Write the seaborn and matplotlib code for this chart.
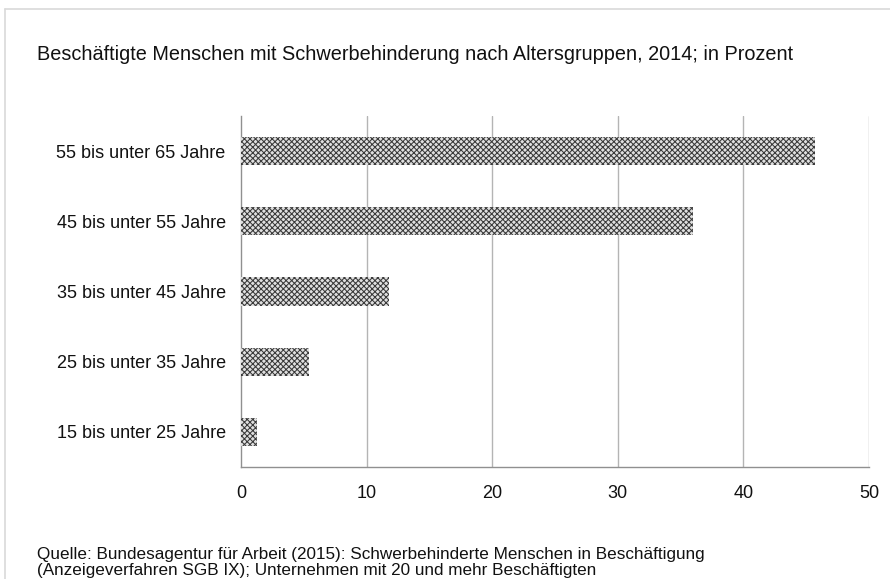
import matplotlib.pyplot as plt
import matplotlib.lines as mlines
import pandas as pd
import seaborn as sns

# age groups, top to bottom as in the chart
groups = ["55 bis unter 65 Jahre", "45 bis unter 55 Jahre", "35 bis unter 45 Jahre",
          "25 bis unter 35 Jahre", "15 bis unter 25 Jahre"]
shares = [45.7, 36.0, 11.8, 5.4, 1.3]
xticks = [0, 10, 20, 30, 40, 50]

title = "Beschäftigte Menschen mit Schwerbehinderung nach Altersgruppen, 2014; in Prozent"
source_1 = "Quelle: Bundesagentur für Arbeit (2015): Schwerbehinderte Menschen in Beschäftigung"
source_2 = "(Anzeigeverfahren SGB IX); Unternehmen mit 20 und mehr Beschäftigten"

df = pd.DataFrame({"Gruppe": groups, "Anteil": shares})

sns.set_style("white")
plt.rcParams['font.family'] = ['Liberation Sans', 'DejaVu Sans']
plt.rcParams['hatch.linewidth'] = 0.75

fig = plt.figure(figsize=(8.9, 5.79), dpi=100)
ax = fig.add_axes([241 / 890, 1 - 467 / 579, 628 / 890, 351 / 579])

sns.barplot(data=df, x="Anteil", y="Gruppe", orient="h", width=0.4,
            color="white", ax=ax, zorder=3)
for p in ax.patches:
    p.set_hatch("xxxxxx")
    p.set_edgecolor("#3a3a3a")
    p.set_linewidth(0)
    p.set_facecolor("#e0e0e0")

ax.set_xlim(0, 50)
ax.set_xticks(xticks)
ax.set_ylim(4.5, -0.5)
ax.set_xlabel("")
ax.set_ylabel("")

# vertical gridlines
for v in xticks[1:]:
    ax.axvline(v, color="#b4b4b4", lw=1, zorder=1)

# category boundary ticks on the y axis
ax.set_yticks([i - 0.5 for i in range(6)], minor=True)
ax.tick_params(axis="y", which="major", length=0, pad=11, labelsize=13, colors="#111111")
ax.tick_params(axis="y", which="minor", length=5, color="#909090", width=1, direction="out")
ax.tick_params(axis="x", length=6, color="#909090", width=1, direction="out",
               labelsize=13, labelcolor="#111111", pad=7)

for s in ["top", "right"]:
    ax.spines[s].set_visible(False)
for s in ["left", "bottom"]:
    ax.spines[s].set_color("#909090")
    ax.spines[s].set_linewidth(1)

fig.text(37 / 890, 1 - 55 / 579, title, fontsize=14.3, va="center", ha="left", color="#111111")
fig.text(37 / 890, 1 - 559 / 579, source_1, fontsize=12.3, va="baseline", ha="left", color="#111111")
fig.text(37 / 890, 1 - 575.5 / 579, source_2, fontsize=12.3, va="baseline", ha="left", color="#111111")

# thin frame lines along top and left edge
fig.add_artist(mlines.Line2D([5 / 890, 1], [1 - 9 / 579, 1 - 9 / 579], color="#d9d9d9", lw=1.2))
fig.add_artist(mlines.Line2D([5 / 890, 5 / 890], [0, 1 - 9 / 579], color="#d9d9d9", lw=1.2))

fig.savefig("out.png", dpi=100)
